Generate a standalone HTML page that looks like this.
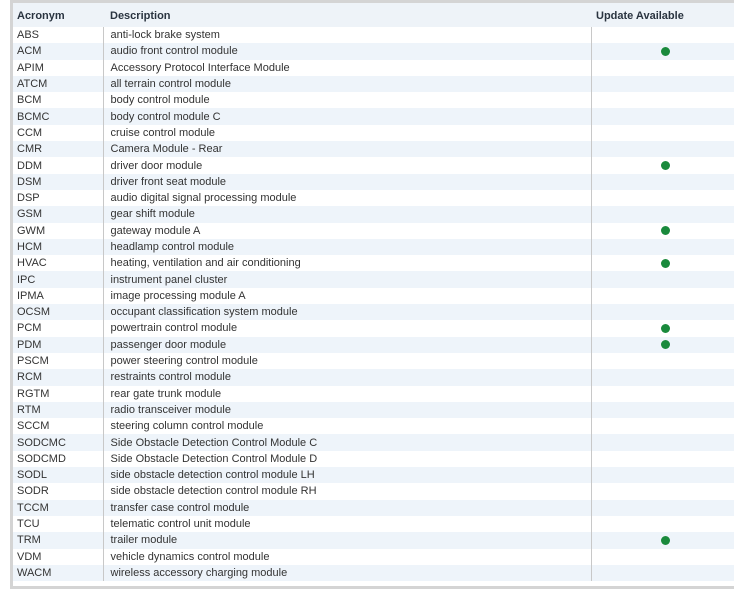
<!DOCTYPE html>
<html><head><style>
body{margin:0;width:734px;height:588px;background:#fff;overflow:hidden;font-family:"Liberation Sans",Arial,sans-serif;}
.frame{position:absolute;left:10px;top:0;width:730px;height:583px;border-top:3px solid #d4d4d4;border-left:3px solid #d4d4d4;border-bottom:3px solid #d4d4d4;}
table{border-collapse:collapse;width:730px;font-size:11px;color:#333;table-layout:fixed;}
th{height:22px;background:#eef3f8;text-align:left;font-weight:bold;color:#2a3440;padding:2px 0 0 0;font-size:11px;}
td{height:16.3px;padding:0;line-height:16px;white-space:nowrap;}
tr:nth-child(odd) td{background:#eef4fa;}
.c1{padding-left:4px;width:86px;}
.c2{padding-left:7px;border-left:1px solid #c8c8c8;width:480px;}
.c3{border-left:1px solid #c8c8c8;text-align:center;padding-right:65px;}
th.c2,th.c3{border-left:none;}
th.c3{text-align:left;padding-left:5px;padding-right:0}
.d{display:inline-block;width:9px;height:9px;border-radius:50%;background:#1a8a3c;vertical-align:middle;margin-left:69px;}
</style></head><body>
<div class="frame"><table>
<colgroup><col style="width:90px"><col style="width:488px"><col></colgroup>
<tr><th class="c1">Acronym</th><th class="c2">Description</th><th class="c3">Update Available</th></tr>
<tr><td class="c1">ABS</td><td class="c2">anti-lock brake system</td><td class="c3"></td></tr>
<tr><td class="c1">ACM</td><td class="c2">audio front control module</td><td class="c3" style="text-align:left;padding:0"><span class="d"></span></td></tr>
<tr><td class="c1">APIM</td><td class="c2">Accessory Protocol Interface Module</td><td class="c3"></td></tr>
<tr><td class="c1">ATCM</td><td class="c2">all terrain control module</td><td class="c3"></td></tr>
<tr><td class="c1">BCM</td><td class="c2">body control module</td><td class="c3"></td></tr>
<tr><td class="c1">BCMC</td><td class="c2">body control module C</td><td class="c3"></td></tr>
<tr><td class="c1">CCM</td><td class="c2">cruise control module</td><td class="c3"></td></tr>
<tr><td class="c1">CMR</td><td class="c2">Camera Module - Rear</td><td class="c3"></td></tr>
<tr><td class="c1">DDM</td><td class="c2">driver door module</td><td class="c3" style="text-align:left;padding:0"><span class="d"></span></td></tr>
<tr><td class="c1">DSM</td><td class="c2">driver front seat module</td><td class="c3"></td></tr>
<tr><td class="c1">DSP</td><td class="c2">audio digital signal processing module</td><td class="c3"></td></tr>
<tr><td class="c1">GSM</td><td class="c2">gear shift module</td><td class="c3"></td></tr>
<tr><td class="c1">GWM</td><td class="c2">gateway module A</td><td class="c3" style="text-align:left;padding:0"><span class="d"></span></td></tr>
<tr><td class="c1">HCM</td><td class="c2">headlamp control module</td><td class="c3"></td></tr>
<tr><td class="c1">HVAC</td><td class="c2">heating, ventilation and air conditioning</td><td class="c3" style="text-align:left;padding:0"><span class="d"></span></td></tr>
<tr><td class="c1">IPC</td><td class="c2">instrument panel cluster</td><td class="c3"></td></tr>
<tr><td class="c1">IPMA</td><td class="c2">image processing module A</td><td class="c3"></td></tr>
<tr><td class="c1">OCSM</td><td class="c2">occupant classification system module</td><td class="c3"></td></tr>
<tr><td class="c1">PCM</td><td class="c2">powertrain control module</td><td class="c3" style="text-align:left;padding:0"><span class="d"></span></td></tr>
<tr><td class="c1">PDM</td><td class="c2">passenger door module</td><td class="c3" style="text-align:left;padding:0"><span class="d"></span></td></tr>
<tr><td class="c1">PSCM</td><td class="c2">power steering control module</td><td class="c3"></td></tr>
<tr><td class="c1">RCM</td><td class="c2">restraints control module</td><td class="c3"></td></tr>
<tr><td class="c1">RGTM</td><td class="c2">rear gate trunk module</td><td class="c3"></td></tr>
<tr><td class="c1">RTM</td><td class="c2">radio transceiver module</td><td class="c3"></td></tr>
<tr><td class="c1">SCCM</td><td class="c2">steering column control module</td><td class="c3"></td></tr>
<tr><td class="c1">SODCMC</td><td class="c2">Side Obstacle Detection Control Module C</td><td class="c3"></td></tr>
<tr><td class="c1">SODCMD</td><td class="c2">Side Obstacle Detection Control Module D</td><td class="c3"></td></tr>
<tr><td class="c1">SODL</td><td class="c2">side obstacle detection control module LH</td><td class="c3"></td></tr>
<tr><td class="c1">SODR</td><td class="c2">side obstacle detection control module RH</td><td class="c3"></td></tr>
<tr><td class="c1">TCCM</td><td class="c2">transfer case control module</td><td class="c3"></td></tr>
<tr><td class="c1">TCU</td><td class="c2">telematic control unit module</td><td class="c3"></td></tr>
<tr><td class="c1">TRM</td><td class="c2">trailer module</td><td class="c3" style="text-align:left;padding:0"><span class="d"></span></td></tr>
<tr><td class="c1">VDM</td><td class="c2">vehicle dynamics control module</td><td class="c3"></td></tr>
<tr><td class="c1">WACM</td><td class="c2">wireless accessory charging module</td><td class="c3"></td></tr>
</table></div>
</body></html>
